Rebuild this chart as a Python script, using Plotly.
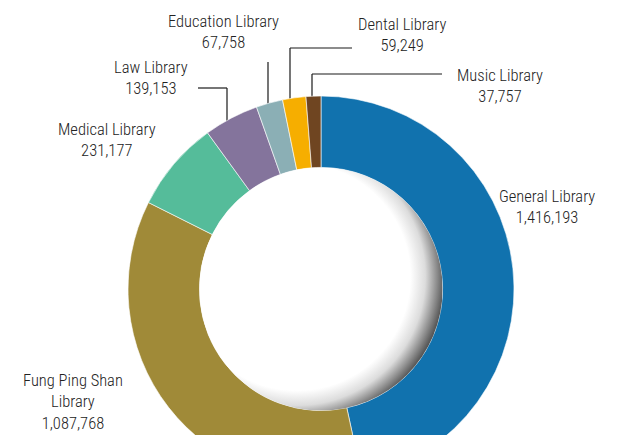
import base64
import plotly.graph_objects as go

# ---- data ----
names = ["General Library", "Fung Ping Shan Library", "Medical Library", "Law Library",
         "Education Library", "Dental Library", "Music Library"]
label_text = ["General Library", "Fung Ping Shan<br>Library", "Medical Library", "Law Library",
              "Education Library", "Dental Library", "Music Library"]
values = [1416193, 1087768, 231177, 139153, 67758, 59249, 37757]
colors = ["#1172AE", "#A08A38", "#55BC9A", "#84749C", "#8BAFB5", "#F6AE00", "#6F4521"]

W, H = 623, 500
CX, CY, R = 321, 289, 193   # pie centre / radius in pixels
HOLE = 0.63

def px(x):
    return x / W

def py(y):
    return 1 - y / H

fig = go.Figure(go.Pie(
    labels=names, values=values, sort=False, direction="clockwise", rotation=0,
    hole=HOLE, textinfo="none", hoverinfo="label+value",
    marker=dict(colors=colors, line=dict(color="#ffffff", width=0.6)),
    domain=dict(x=[px(CX - R), px(CX + R)], y=[py(CY + R), py(CY - R)]),
    showlegend=False,
))

# inset shadow inside the hole: an SVG radial gradient placed as a layout image
Rh = R * HOLE
svg = ('<svg xmlns="http://www.w3.org/2000/svg" width="200" height="200" viewBox="0 0 200 200" '
       'preserveAspectRatio="none"><defs><radialGradient id="g" cx="0.40" cy="0.45" r="0.615">'
       '<stop offset="0" stop-color="#ffffff"/>'
       '<stop offset="0.76" stop-color="#ffffff"/>'
       '<stop offset="0.86" stop-color="#dcdcdc"/>'
       '<stop offset="0.94" stop-color="#8a8a8a"/>'
       '<stop offset="1" stop-color="#4a4a4a"/>'
       '</radialGradient></defs><circle cx="100" cy="100" r="100" fill="url(#g)"/></svg>')
src = "data:image/svg+xml;base64," + base64.b64encode(svg.encode()).decode()
images = [dict(source=src, xref="paper", yref="paper", x=px(CX - Rh), y=py(CY - Rh),
               sizex=2 * Rh / W, sizey=2 * Rh / H, sizing="stretch",
               xanchor="left", yanchor="top", layer="above")]

# leader lines (pixel paths)
shapes = []
leaders = [
    [(198, 88), (227, 88), (227, 126)],
    [(268, 62), (268, 108)],
    [(352, 48), (290, 48), (290, 104)],
    [(442, 74), (312, 74), (312, 102)],
]
for pts in leaders:
    for (x0, y0), (x1, y1) in zip(pts[:-1], pts[1:]):
        shapes.append(dict(type="line", xref="paper", yref="paper",
                           x0=px(x0), y0=py(y0), x1=px(x1), y1=py(y1),
                           line=dict(color="#1a1a1a", width=1.2), layer="below"))

# label positions (centre x, centre y in pixels)
label_pos = [(547, 207), (73, 402), (107, 140), (151, 78), (223, 32), (402, 35), (500, 86)]
font = dict(family="Roboto Condensed, Liberation Sans Narrow, Arial Narrow, sans-serif",
            size=16.5, color="#222222", weight=300)
annotations = []
for txt, v, (x, y) in zip(label_text, values, label_pos):
    annotations.append(dict(text=f"{txt}<br>{v:,}", x=px(x), y=py(y), xref="paper", yref="paper",
                            xanchor="center", yanchor="middle", showarrow=False, font=font,
                            align="center"))

fig.update_layout(width=W, height=H, margin=dict(l=0, r=0, t=0, b=0),
                  paper_bgcolor="white", plot_bgcolor="white",
                  shapes=shapes, annotations=annotations, images=images)

fig.write_html("out.html", config={"displayModeBar": False},
               post_script="document.body.style.margin='0';document.body.style.overflow='hidden';document.documentElement.style.overflow='hidden';")
